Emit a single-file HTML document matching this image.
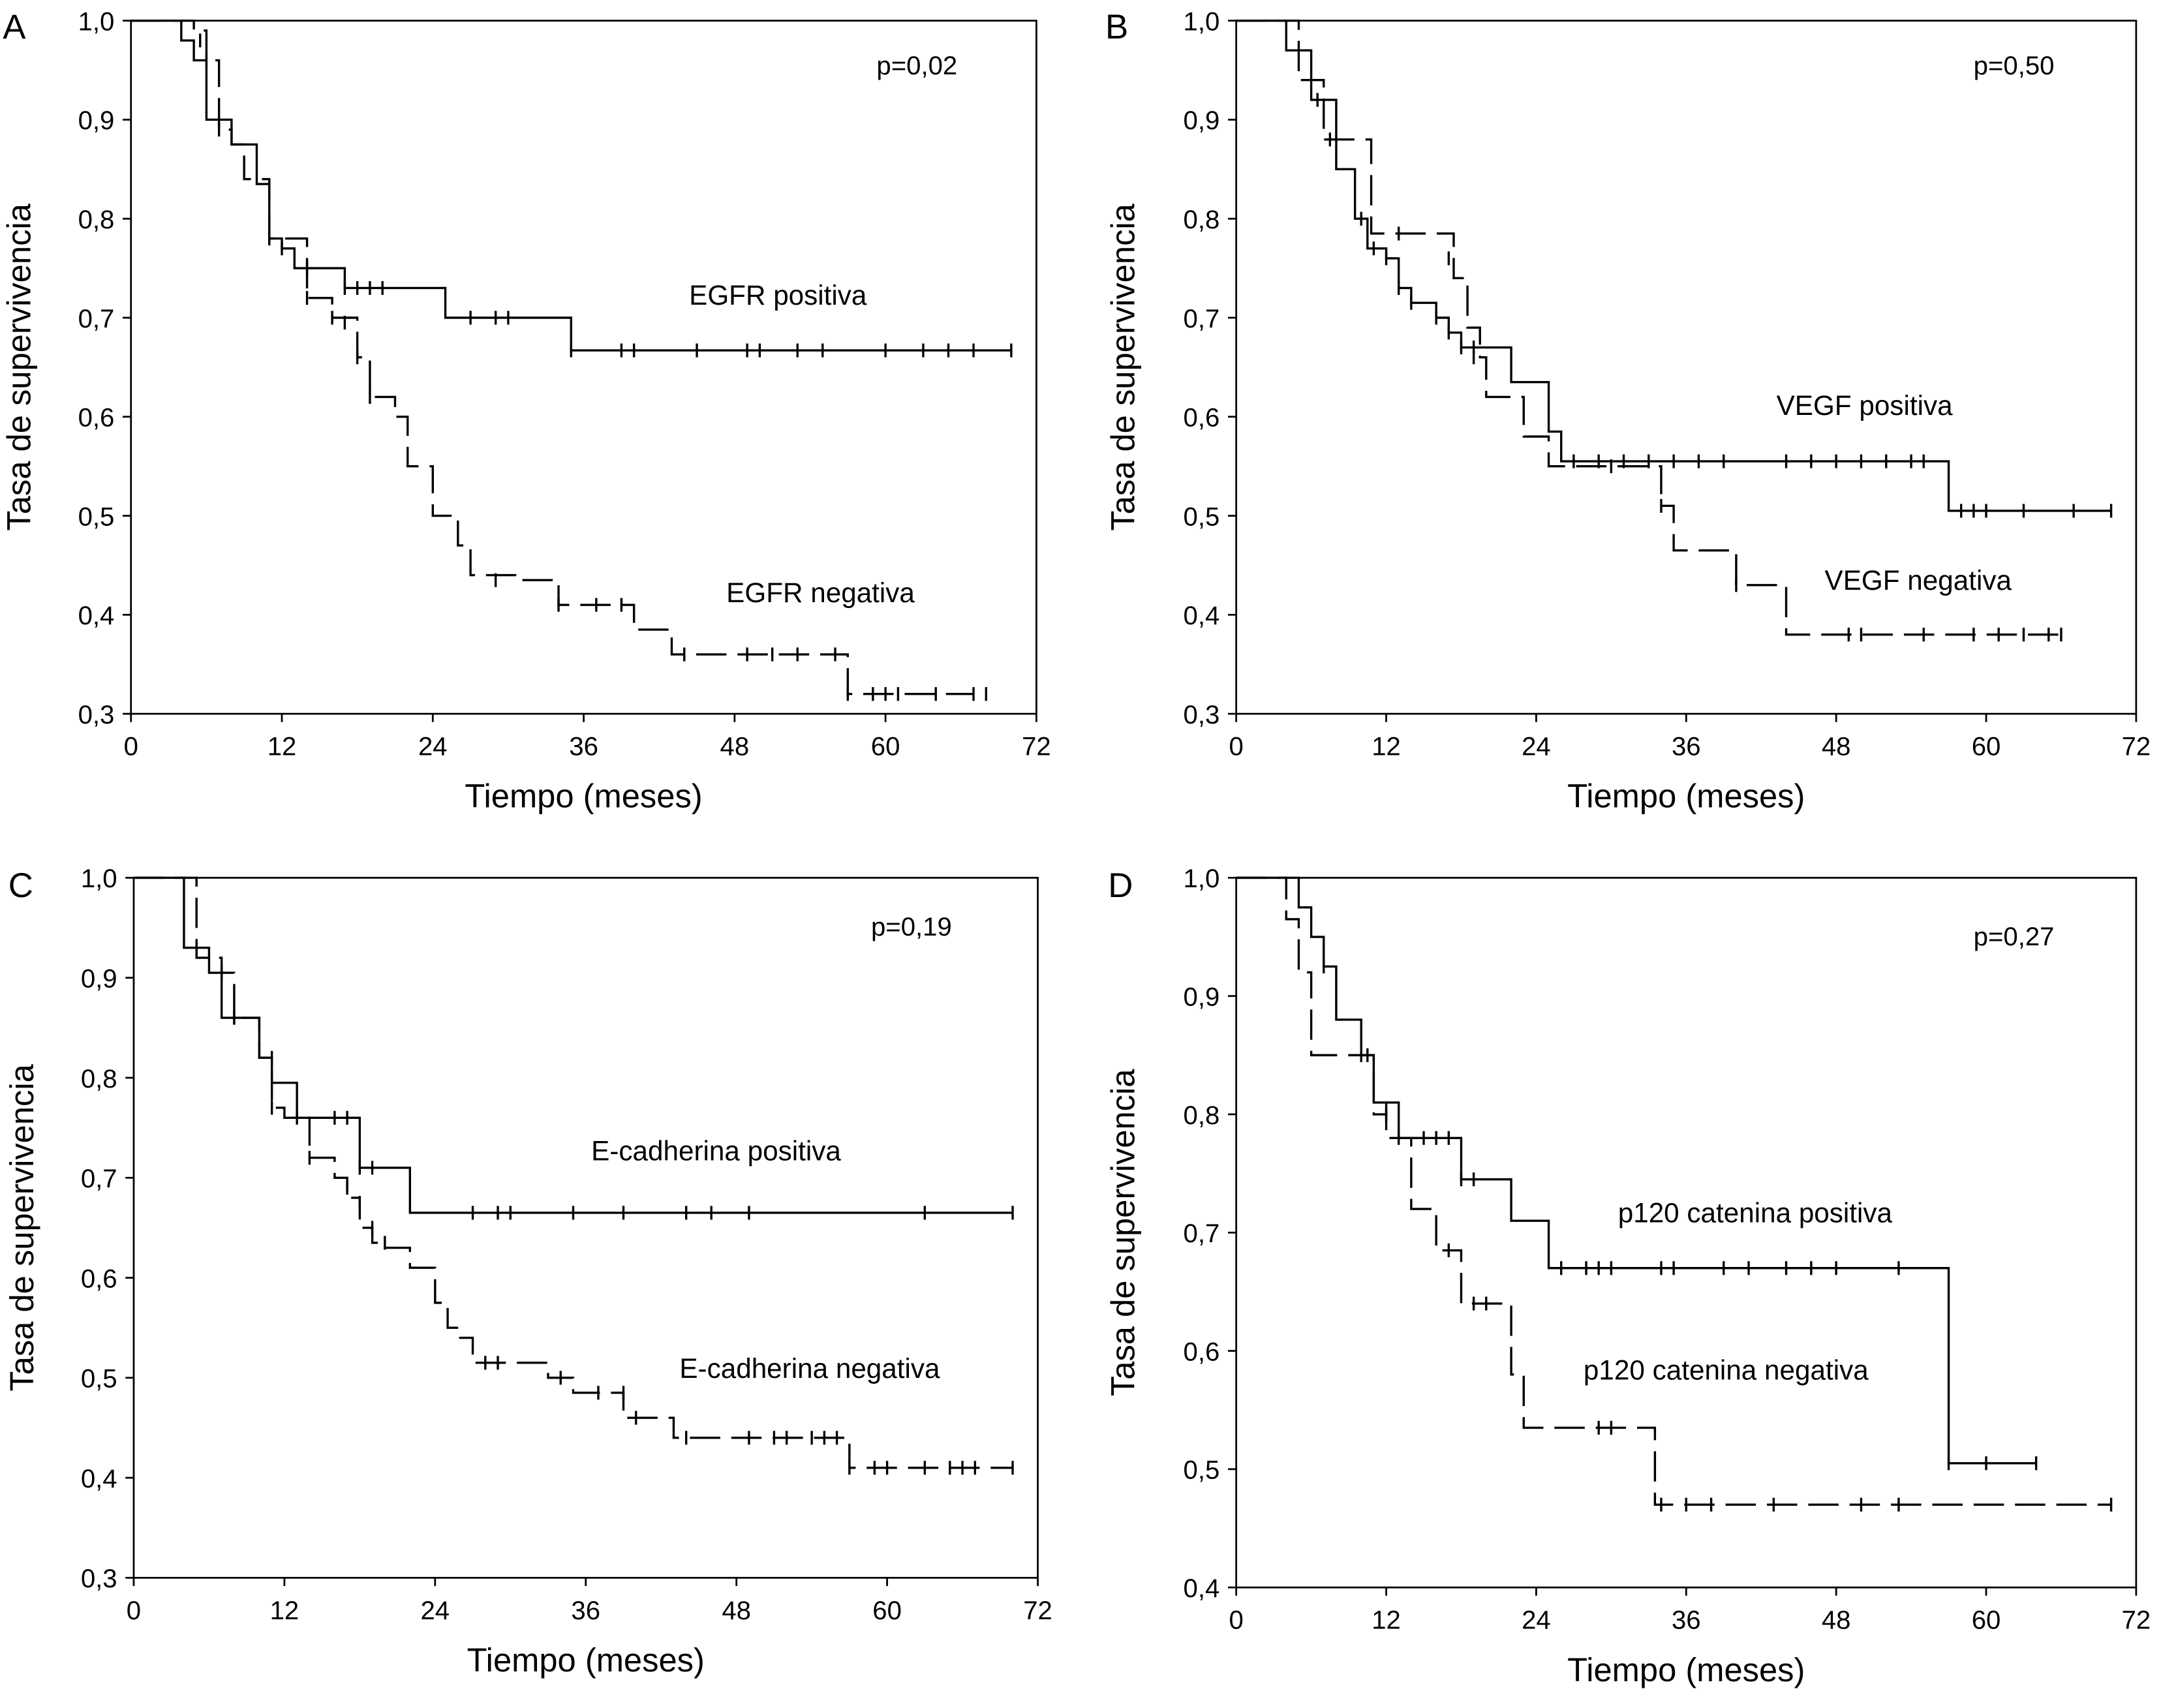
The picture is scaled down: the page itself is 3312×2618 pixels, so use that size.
<!DOCTYPE html>
<html><head><meta charset="utf-8"><style>
html,body{margin:0;padding:0;background:#fff;}
svg{display:block;}
text{font-family:"Liberation Sans",sans-serif;fill:#000;}
</style></head><body>
<svg id="chart" width="3312" height="2618" viewBox="0 0 1568 1239.5" xmlns="http://www.w3.org/2000/svg"></svg>
<script>
// ---------- Panel A ----------
const aPosT=[0,4,5,6,8,10,11,12,13,17,25,35,70];
const aPosS=[1,0.98,0.96,0.90,0.875,0.835,0.78,0.77,0.75,0.73,0.70,0.667,0.667];
const aPosCT=[5.5,11,12,14,17,18,19,20,27,29,30,35,39,40,45,49,50,53,55,60,63,65,67,70];
const aPosCS=[0.98,0.78,0.77,0.75,0.73,0.73,0.73,0.73,0.70,0.70,0.70,0.667,0.667,0.667,0.667,0.667,0.667,0.667,0.667,0.667,0.667,0.667,0.667,0.667];
const aNegT=[0,5,6,7,8,9,11,14,16,18,19,21,22,24,26,27,31,34,40,43,57,67];
const aNegS=[1,0.99,0.96,0.89,0.875,0.84,0.78,0.72,0.70,0.66,0.62,0.60,0.55,0.50,0.47,0.44,0.435,0.41,0.385,0.36,0.32,0.32];
const aNegCT=[6,7,11,14,16,17,18,19,29,34,37,39,44,49,51,53,56,57,59,60,61,64,67,68];
const aNegCS=[0.96,0.89,0.78,0.72,0.70,0.695,0.66,0.62,0.435,0.41,0.41,0.41,0.36,0.36,0.36,0.36,0.36,0.32,0.32,0.32,0.32,0.32,0.32,0.32];
// ---------- Panel B ----------
const bPosT=[0,4,6,8,9.5,10.5,12,13,14,16,17,18,22,25,26,57,70];
const bPosS=[1,0.97,0.92,0.85,0.80,0.77,0.76,0.73,0.715,0.70,0.685,0.67,0.635,0.585,0.555,0.505,0.505];
const bPosCT=[6.5,10,11,12,13,14,16,17,18,19,27,29,31,33,35,37,39,44,46,48,50,52,54,55,58,59,60,63,67,70];
const bPosCS=[0.92,0.80,0.77,0.76,0.73,0.715,0.70,0.685,0.67,0.67,0.555,0.555,0.555,0.555,0.555,0.555,0.555,0.555,0.555,0.555,0.555,0.555,0.555,0.555,0.505,0.505,0.505,0.505,0.505,0.505];
const bNegT=[0,5,7,10.8,17.4,18.5,19.5,20,23,25,34,35,40,44,66];
const bNegS=[1,0.94,0.88,0.785,0.74,0.69,0.66,0.62,0.58,0.55,0.51,0.465,0.43,0.38,0.38];
const bNegCT=[7.5,13,17,19,30,34,40,49,50,55,59,61,63,65,66];
const bNegCS=[0.88,0.785,0.76,0.66,0.55,0.51,0.43,0.38,0.38,0.38,0.38,0.38,0.38,0.38,0.38];
// ---------- Panel C ----------
const cPosT=[0,4,6,7,10,11,13,18,22,70];
const cPosS=[1,0.93,0.905,0.86,0.82,0.795,0.76,0.71,0.665,0.665];
const cPosCT=[5,8,11,16,17,18,19,27,29,30,35,39,44,46,49,63,70];
const cPosCS=[0.93,0.86,0.82,0.76,0.76,0.71,0.71,0.665,0.665,0.665,0.665,0.665,0.665,0.665,0.665,0.665,0.665];
const cNegT=[0,5,7,8,10,11,12,14,16,17,18,19,20,22,24,25,26,27,33,35,39,43,57,70];
const cNegS=[1,0.92,0.905,0.86,0.82,0.77,0.76,0.72,0.70,0.68,0.65,0.635,0.63,0.61,0.575,0.55,0.54,0.515,0.50,0.485,0.46,0.44,0.41,0.41];
const cNegCT=[7,8,11,13,14,17,18,19,20,28,29,34,37,39,40,44,49,51,52,54,55,56,57,59,60,63,65,66,67,70];
const cNegCS=[0.905,0.86,0.77,0.76,0.72,0.69,0.675,0.65,0.635,0.515,0.515,0.50,0.485,0.485,0.46,0.44,0.44,0.44,0.44,0.44,0.44,0.44,0.41,0.41,0.41,0.41,0.41,0.41,0.41,0.41];
// ---------- Panel D ----------
const dPosT=[0,5,6,7,8,10,11,13,18,22,25,57,64];
const dPosS=[1,0.975,0.95,0.925,0.88,0.85,0.81,0.78,0.745,0.71,0.67,0.505,0.505];
const dPosCT=[7,10.5,12,13,15,16,17,18,19,26,28,29,30,34,35,39,41,44,46,48,53,57,60,64];
const dPosCS=[0.925,0.85,0.805,0.78,0.78,0.78,0.78,0.745,0.745,0.67,0.67,0.67,0.67,0.67,0.67,0.67,0.67,0.67,0.67,0.67,0.67,0.505,0.505,0.505];
const dNegT=[0,4,5,6,11,12,14,16,18,22,23,33.5,70];
const dNegS=[1,0.965,0.92,0.85,0.80,0.78,0.72,0.685,0.64,0.58,0.535,0.47,0.47];
const dNegCT=[10,12,17,19,20,29,30,34,36,38,43,50,53,70];
const dNegCS=[0.85,0.80,0.685,0.64,0.64,0.535,0.535,0.47,0.47,0.47,0.47,0.47,0.47,0.47];

const xTicks=[0,12,24,36,48,60,72];
const yTicksA=[1.0,0.9,0.8,0.7,0.6,0.5,0.4,0.3];
const yTicksD=[1.0,0.9,0.8,0.7,0.6,0.5,0.4];

const NS="http://www.w3.org/2000/svg";
const svg=document.getElementById('chart');
function mk(tag,attrs,parent){const e=document.createElementNS(NS,tag);for(const k in attrs)e.setAttribute(k,attrs[k]);(parent||svg).appendChild(e);return e;}
function fmt(v){return v.toFixed(1).replace('.',',');}

function panel(cfg){
  const g=mk('g',{});
  
  
  const {x0,x1,y0,y1,ymin}=cfg;
  const X=t=>x0+(x1-x0)*t/72;
  const Y=s=>y1-(y1-y0)*(s-ymin)/(1-ymin);
  const frame=mk('rect',{x:x0,y:y0,width:x1-x0,height:y1-y0,fill:'none',stroke:'#000','stroke-width':1.3},g);
  
  
  xTicks.forEach(t=>{
    mk('line',{x1:X(t),x2:X(t),y1:y1,y2:y1+6,stroke:'#000','stroke-width':1.3},g);
    const tx=mk('text',{x:X(t),y:y1+30,'font-size':19,'text-anchor':'middle'},g);tx.textContent=t;
    
    
  });
  cfg.yTicks.forEach(v=>{
    mk('line',{x1:x0-6,x2:x0,y1:Y(v),y2:Y(v),stroke:'#000','stroke-width':1.3},g);
    const tx=mk('text',{x:x0-12,y:Y(v)+7,'font-size':19,'text-anchor':'end'},g);tx.textContent=fmt(v);
    
    
  });
  const xt=mk('text',{x:(x0+x1)/2,y:y1+68,'font-size':24,'text-anchor':'middle'},g);xt.textContent='Tiempo (meses)';
  
  
  const cy=(y0+y1)/2;
  const yt=mk('text',{x:cfg.ytx,y:cy,'font-size':24,'text-anchor':'middle',transform:`rotate(-90 ${cfg.ytx} ${cy})`},g);yt.textContent='Tasa de supervivencia';
  
  
  const lt=mk('text',{x:cfg.lx,y:cfg.ly,'font-size':25},g);lt.textContent=cfg.letter;
  
  
  const pt=mk('text',{x:cfg.px,y:cfg.py,'font-size':19},g);pt.textContent=cfg.p;
  
  
  cfg.series.forEach(s=>{
    let d=`M${X(s.t[0])},${Y(s.s[0])}`;
    for(let i=1;i<s.t.length;i++){d+=` H${X(s.t[i])} V${Y(s.s[i])}`;}
    const p=mk('path',{d:d,fill:'none',stroke:'#000','stroke-width':1.6,'stroke-dasharray':s.dash?'22 8':'none'},g);
    
    
    s.ct.forEach((t,i)=>{
      const c=mk('line',{x1:X(t),x2:X(t),y1:Y(s.cs[i])-5,y2:Y(s.cs[i])+5,stroke:'#000','stroke-width':1.6},g);
      
      
    });
    const lb=mk('text',{x:s.lx,y:s.ly,'font-size':20},g);lb.textContent=s.label;
    
    
  });
}

panel({letter:'A',x0:95,x1:752,y0:15,y1:518,ymin:0.3,yTicks:yTicksA,ytx:22,lx:2,ly:28,px:636,py:54,p:'p=0,02',
  series:[{name:'egfr-positiva',t:aPosT,s:aPosS,ct:aPosCT,cs:aPosCS,dash:false,label:'EGFR positiva',lx:500,ly:221},
          {name:'egfr-negativa',t:aNegT,s:aNegS,ct:aNegCT,cs:aNegCS,dash:true,label:'EGFR negativa',lx:527,ly:437}]});
panel({letter:'B',x0:897,x1:1550,y0:15,y1:518,ymin:0.3,yTicks:yTicksA,ytx:823,lx:802,ly:28,px:1432,py:54,p:'p=0,50',
  series:[{name:'vegf-positiva',t:bPosT,s:bPosS,ct:bPosCT,cs:bPosCS,dash:false,label:'VEGF positiva',lx:1289,ly:301},
          {name:'vegf-negativa',t:bNegT,s:bNegS,ct:bNegCT,cs:bNegCS,dash:true,label:'VEGF negativa',lx:1324,ly:428}]});
panel({letter:'C',x0:97,x1:753,y0:637,y1:1145,ymin:0.3,yTicks:yTicksA,ytx:24,lx:6,ly:651,px:632,py:679,p:'p=0,19',
  series:[{name:'e-cadherina-positiva',t:cPosT,s:cPosS,ct:cPosCT,cs:cPosCS,dash:false,label:'E-cadherina positiva',lx:429,ly:842},
          {name:'e-cadherina-negativa',t:cNegT,s:cNegS,ct:cNegCT,cs:cNegCS,dash:true,label:'E-cadherina negativa',lx:493,ly:1000}]});
panel({letter:'D',x0:897,x1:1550,y0:637,y1:1152,ymin:0.4,yTicks:yTicksD,ytx:823,lx:804,ly:651,px:1432,py:686,p:'p=0,27',
  series:[{name:'p120-positiva',t:dPosT,s:dPosS,ct:dPosCT,cs:dPosCS,dash:false,label:'p120 catenina positiva',lx:1174,ly:887},
          {name:'p120-negativa',t:dNegT,s:dNegS,ct:dNegCT,cs:dNegCS,dash:true,label:'p120 catenina negativa',lx:1149,ly:1001}]});
</script>
</body></html>
